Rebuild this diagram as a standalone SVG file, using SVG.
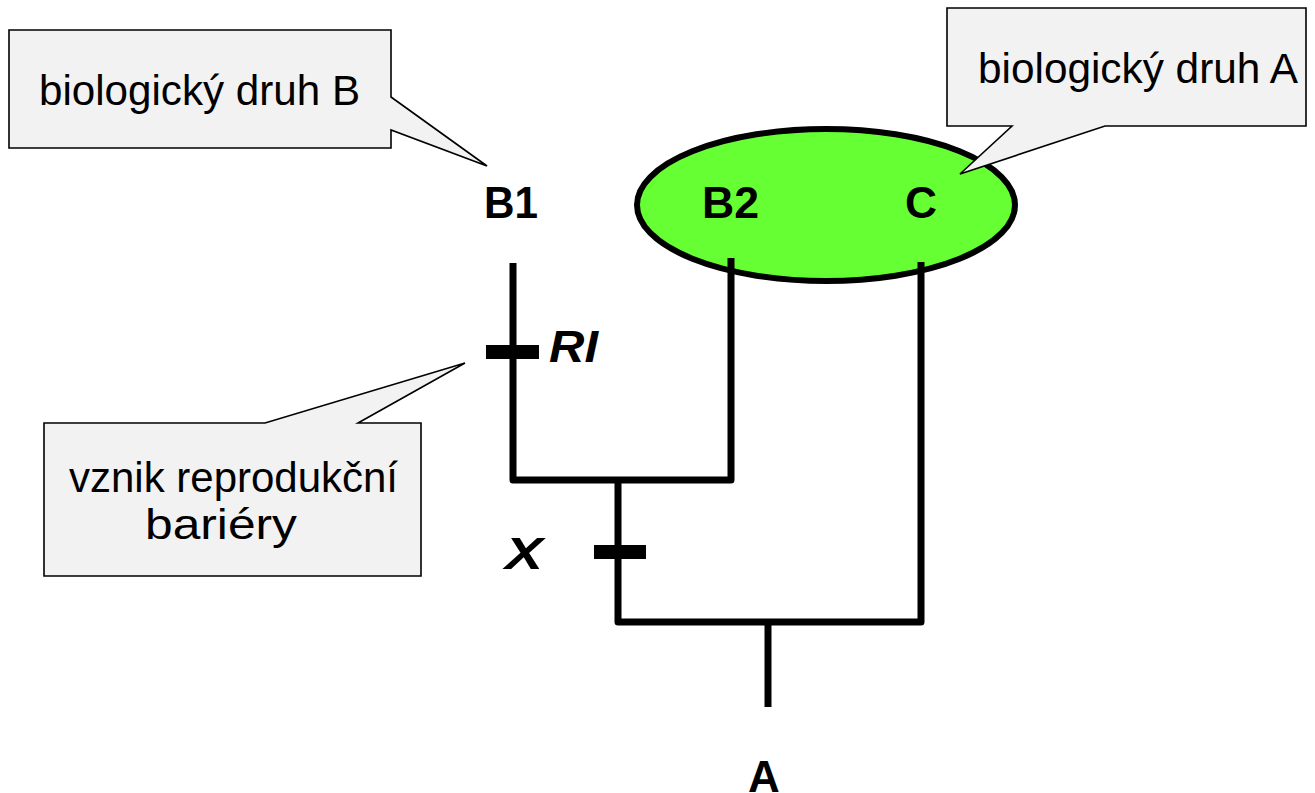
<svg xmlns="http://www.w3.org/2000/svg" width="1315" height="793" viewBox="0 0 1315 793">
<style>
.callout{fill:#f2f2f2;stroke:#000;stroke-width:1.6;stroke-linejoin:miter}
.ct{font-family:"Liberation Sans",Arial,sans-serif;font-size:42px;fill:#000}
.lbl{font-family:"Liberation Sans",Arial,sans-serif;font-size:44px;font-weight:bold;fill:#000}
.it{font-style:italic}
.br{fill:none;stroke:#000;stroke-width:7;stroke-linejoin:round;stroke-linecap:butt}
.bar{fill:#000}
</style>
<rect width="1315" height="793" fill="#fff"/>
<g id="speciesA">
<ellipse cx="826" cy="205" rx="189" ry="76" fill="#66ff33" stroke="#000" stroke-width="6"/>
</g>
<g id="connectors">
<path class="br" d="M513,263 V480 H731 V258"/>
<path class="br" d="M618,480 V622 H921 V262"/>
<path class="br" d="M768,622 V707"/>
<rect class="bar" x="486" y="345" width="53" height="14"/>
<rect class="bar" x="594" y="545" width="52" height="14"/>
</g>
<g id="B1"><text class="lbl" x="484" y="218" textLength="54" lengthAdjust="spacingAndGlyphs">B1</text></g>
<g id="B2"><text class="lbl" x="702" y="218" textLength="57" lengthAdjust="spacingAndGlyphs">B2</text></g>
<g id="C"><text class="lbl" x="905" y="218" textLength="32" lengthAdjust="spacingAndGlyphs">C</text></g>
<g id="A"><text class="lbl" x="764" y="792" text-anchor="middle">A</text></g>
<g id="RI"><text class="lbl it" x="549" y="362" textLength="49" lengthAdjust="spacingAndGlyphs">RI</text></g>
<g id="X"><text class="lbl it" x="505" y="569" textLength="38" lengthAdjust="spacingAndGlyphs">X</text></g>
<g id="calloutB">
<path class="callout" d="M9,30 H391 V97 L487,166 L391,130 V148 H9 Z"/>
<text class="ct" x="39" y="105" textLength="321" lengthAdjust="spacingAndGlyphs">biologický druh B</text>
</g>
<g id="calloutA">
<path class="callout" d="M947,8 H1306 V126 H1105 L960,174 L1012,126 H947 Z"/>
<text class="ct" x="978" y="83" textLength="320" lengthAdjust="spacingAndGlyphs">biologický druh A</text>
</g>
<g id="calloutRI">
<path class="callout" d="M44,423 H265 L465,363 L358,423 H421 V576 H44 Z"/>
<text class="ct" x="69" y="492" textLength="329" lengthAdjust="spacingAndGlyphs">vznik reprodukční</text>
<text class="ct" x="145" y="539" textLength="152" lengthAdjust="spacingAndGlyphs">bariéry</text>
</g>
</svg>
